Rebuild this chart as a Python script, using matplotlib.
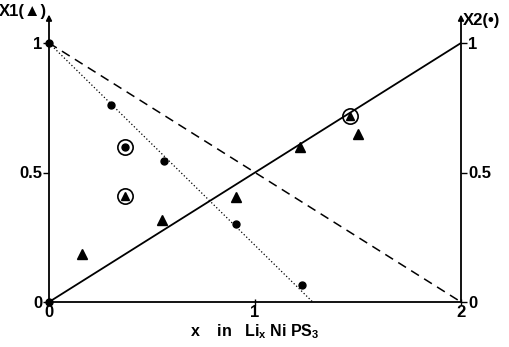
import matplotlib
matplotlib.use("Agg")
from matplotlib import pyplot as plt

plt.rcParams['font.family'] = ['Liberation Sans', 'DejaVu Sans']
plt.rcParams['font.weight'] = 'bold'
plt.rcParams['mathtext.fontset'] = 'custom'
plt.rcParams['mathtext.bf'] = 'Liberation Sans:bold'
plt.rcParams['mathtext.rm'] = 'Liberation Sans:bold'

# X2 (dots) values
x2_x = [0.30, 0.56, 0.91, 1.23]
x2_y = [0.76, 0.545, 0.30, 0.066]
# X1 (triangles) values
x1_x = [0.16, 0.55, 0.91, 1.22, 1.50]
x1_y = [0.185, 0.317, 0.405, 0.60, 0.65]
# circled points
cdot_x = [0.37]
cdot_y = [0.60]
ctri_x = [0.37, 1.46]
ctri_y = [0.41, 0.72]
# end points
end_x = [0, 0]
end_y = [0, 1]

# lines
solid_x = [0, 2]
solid_y = [0, 1]
dash_x = [0, 2]
dash_y = [1, 0]
dot_x = [0, 1.28]
dot_y = [1, 0]

xticks = [0, 1, 2]
yticks = [0, 0.5, 1]
yticklabels = ['0', '0.5', '1']

fig = plt.figure(figsize=(5.09, 3.47), dpi=100)
ax = fig.add_axes([49/509, 45/347, 412/509, 290/347])
ax.set_xlim(0, 2)
ax.set_ylim(0, 290/259)

ax.plot(solid_x, solid_y, color='black', lw=1.3)
ax.plot(dash_x, dash_y, color='black', lw=1.1, ls=(0, (6, 4)))
ax.plot(dot_x, dot_y, color='black', lw=0.9, ls=(0, (1, 1.8)))

ax.plot(x2_x, x2_y, 'o', color='black', ms=5)
ax.plot(x1_x, x1_y, '^', color='black', ms=7)
ax.plot(cdot_x, cdot_y, 'o', mfc='none', mec='black', mew=1.2, ms=11)
ax.plot(cdot_x, cdot_y, 'o', color='black', ms=5)
ax.plot(ctri_x, ctri_y, 'o', mfc='none', mec='black', mew=1.2, ms=11)
ax.plot(ctri_x, ctri_y, '^', color='black', ms=6)
ax.plot(end_x, end_y, 'o', color='black', ms=5, clip_on=False)

for s in ['top', 'bottom', 'left', 'right']:
    ax.spines[s].set_visible(False)

# axis lines
ax.plot([0, 2], [0, 0], color='black', lw=1.3, clip_on=False)
ax.annotate('', xy=(0, 1.11), xytext=(0, 0), annotation_clip=False,
            arrowprops=dict(arrowstyle='-|>', color='black', lw=1.3,
                            mutation_scale=8, shrinkA=0, shrinkB=0))
ax.annotate('', xy=(2, 1.11), xytext=(2, 0), annotation_clip=False,
            arrowprops=dict(arrowstyle='-|>', color='black', lw=1.3,
                            mutation_scale=8, shrinkA=0, shrinkB=0))

ax.set_xticks(xticks)
ax.set_xticklabels([str(t) for t in xticks], fontsize=12, fontweight='bold')
ax.set_yticks(yticks)
ax.set_yticklabels(yticklabels, fontsize=12, fontweight='bold')
ax.tick_params(axis='x', direction='inout', length=5, width=1, pad=0)
ax.tick_params(axis='y', direction='out', length=4, width=1, pad=1,
               left=True, right=True, labelleft=True, labelright=True)

ax.text(-0.008, 1.12, 'X1(\u25b2)', ha='right', va='center', fontsize=12,
        fontweight='bold')
ax.text(2.01, 1.085, 'X2(\u2022)', ha='left', va='center', fontsize=12,
        fontweight='bold')

ax.set_xlabel(r'x    in   Li$_\mathbf{x}$ Ni PS$_\mathbf{3}$', fontsize=11.5,
              fontweight='bold', labelpad=1)

fig.savefig('out.png', dpi=100)
